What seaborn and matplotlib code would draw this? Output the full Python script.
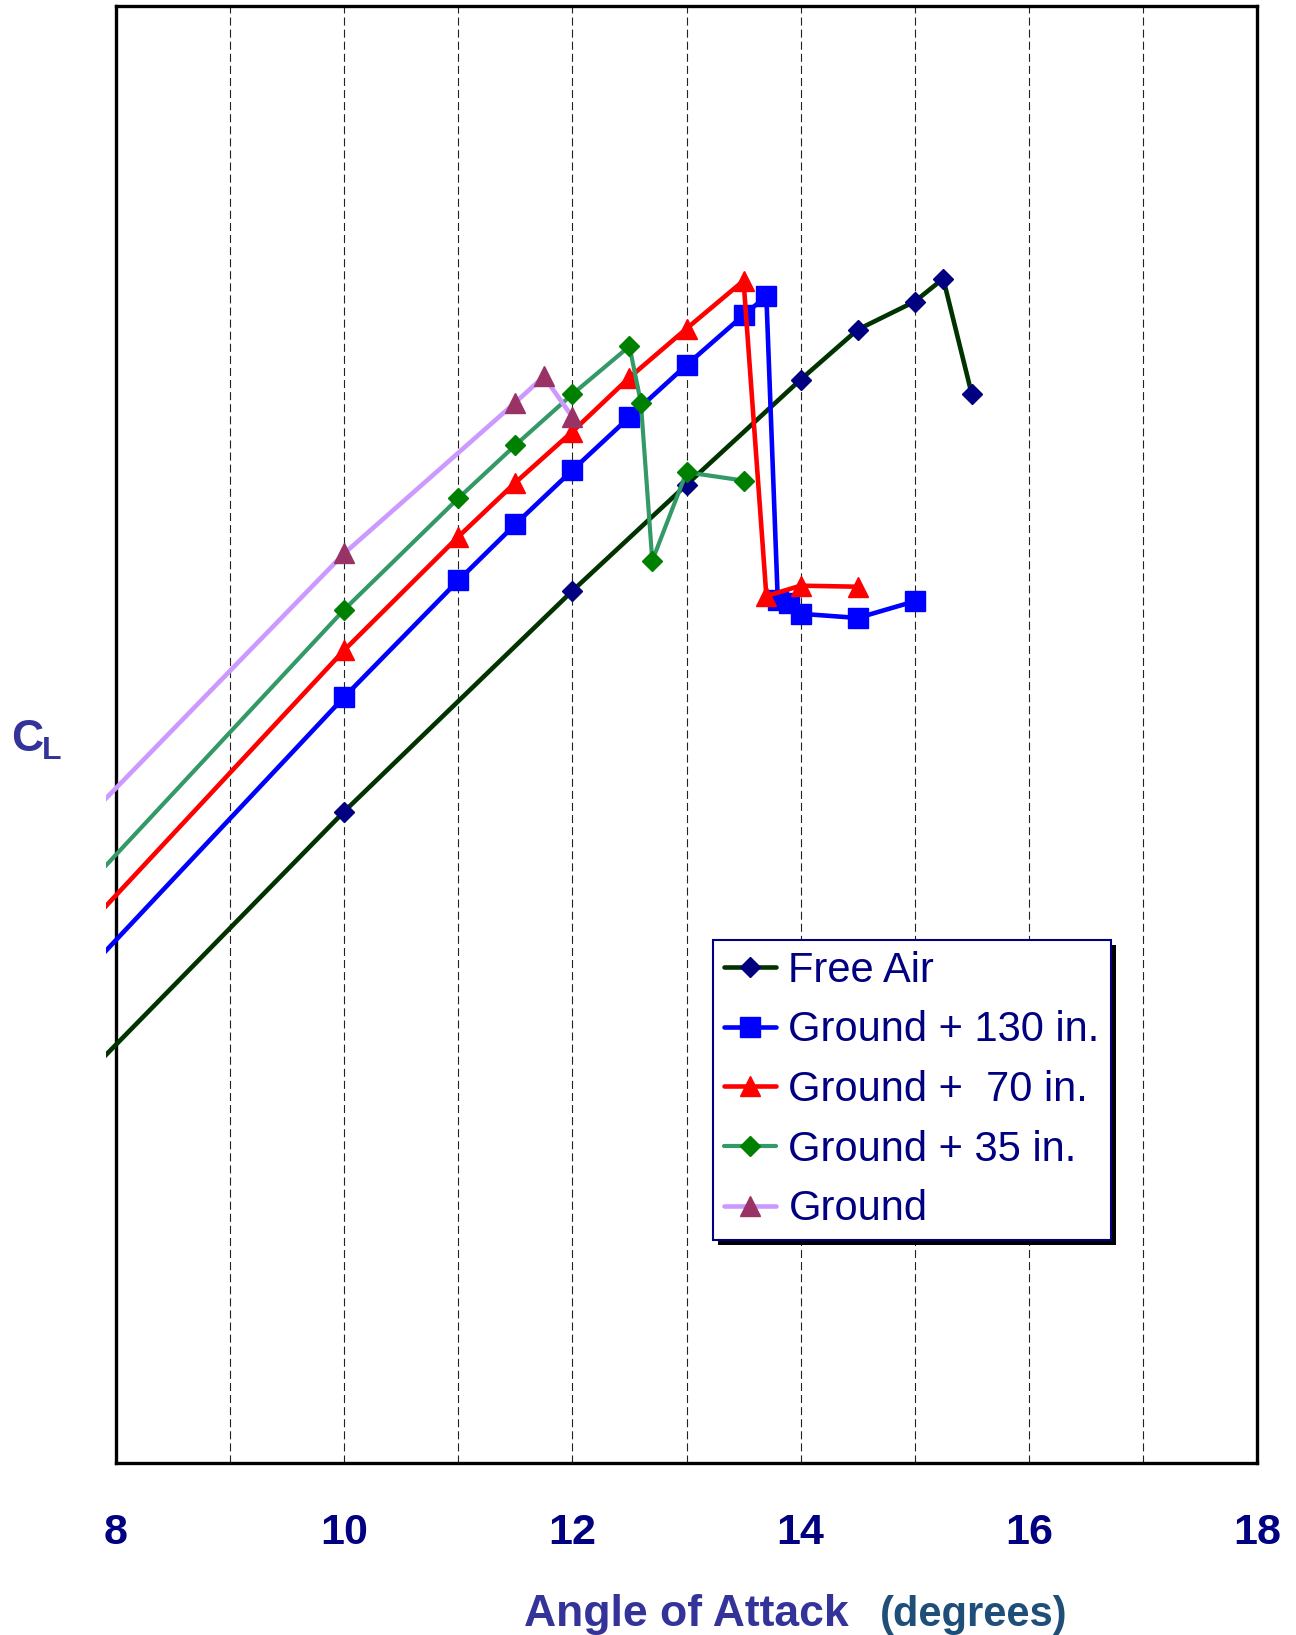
import matplotlib
matplotlib.use("Agg")
import matplotlib.pyplot as plt
import matplotlib.patches as mpatches
import numpy as np
import pandas as pd
import seaborn as sns

# ---- data: angle of attack (deg) and lift coefficient per configuration ----
free_air_alpha = [6, 10, 12, 13, 14, 14.5, 15, 15.25, 15.5]
free_air_cl = [0.578, 1.026, 1.238, 1.340, 1.441, 1.489, 1.516, 1.538, 1.427]

g130_alpha = [6, 10, 11, 11.5, 12, 12.5, 13, 13.5, 13.7, 13.8, 13.9, 14, 14.5, 15]
g130_cl = [0.669, 1.136, 1.248, 1.302, 1.354, 1.405, 1.455, 1.503, 1.521,
           1.229, 1.226, 1.216, 1.212, 1.228]

g70_alpha = [6, 10, 11, 11.5, 12, 12.5, 13, 13.5, 13.7, 14, 14.5]
g70_cl = [0.710, 1.181, 1.290, 1.342, 1.391, 1.443, 1.490, 1.536, 1.233, 1.243, 1.242]

g35_alpha = [6, 10, 11, 11.5, 12, 12.5, 12.6, 12.7, 13, 13.5]
g35_cl = [0.749, 1.220, 1.327, 1.378, 1.427, 1.473, 1.419, 1.267, 1.352, 1.344]

ground_alpha = [6, 10, 11.5, 11.75, 12]
ground_cl = [0.823, 1.274, 1.419, 1.444, 1.405]

series_names = ["Free Air", "Ground + 130 in.", "Ground +  70 in.", "Ground + 35 in.", "Ground"]
line_colors = ["#003300", "#0000FF", "#FF0000", "#339966", "#CC99FF"]
marker_colors = ["#000080", "#0000FF", "#FF0000", "#008000", "#993366"]
marker_shapes = ["D", "s", "^", "D", "^"]
marker_sizes = [10.5, 14, 15, 10.5, 15]
line_widths = [3.3, 3.3, 3.3, 3.0, 3.3]

x_ticks = [8, 10, 12, 14, 16, 18]

series_data = [
    (free_air_alpha, free_air_cl),
    (g130_alpha, g130_cl),
    (g70_alpha, g70_cl),
    (g35_alpha, g35_cl),
    (ground_alpha, ground_cl),
]

# ---- style ----
sns.set_style("white")
plt.rcParams["font.family"] = ["Liberation Sans", "DejaVu Sans"]
plt.rcParams["lines.scale_dashes"] = False

W, H = 1296, 1635
fig = plt.figure(figsize=(W / 100, H / 100), dpi=100)
left, right, top, bottom = 116, 1257, 6, 1463
ax = fig.add_axes([left / W, 1 - bottom / H, (right - left) / W, (bottom - top) / H])

ax.set_xlim(8, 18)
ax.set_ylim(0.4, 1.8)

# dashed vertical grid at each degree
for g in range(9, 18):
    ax.axvline(g, color="#222222", linewidth=0.8, linestyle=(0, (5.8, 2.9)), zorder=1)

# lines may run a little past the left frame, as in the source chart
clip_rect = mpatches.Rectangle((-0.0085, 0), 1.0085, 1, transform=ax.transAxes,
                               facecolor="none", edgecolor="none")
ax.add_patch(clip_rect)

for (a, c), name, lc, mc, mk, ms, lw in zip(series_data, series_names, line_colors,
                                             marker_colors, marker_shapes, marker_sizes,
                                             line_widths):
    df = pd.DataFrame({"alpha": a, "cl": c})
    n_before = len(ax.lines)
    sns.lineplot(data=df, x="alpha", y="cl", ax=ax, sort=False, estimator=None,
                 color=lc, linewidth=lw, marker=mk, markersize=ms,
                 markerfacecolor=mc, markeredgecolor=mc, markeredgewidth=1.0,
                 label=name, zorder=3)
    for ln in ax.lines[n_before:]:
        ln.set_clip_path(clip_rect)

# frame
for sp in ax.spines.values():
    sp.set_visible(True)
    sp.set_color("black")
    sp.set_linewidth(2.4)

ax.set_yticks([])
ax.set_ylabel("")
ax.set_xlabel("")
ax.set_xticks(x_ticks)
ax.set_xticklabels([str(t) for t in x_ticks])
ax.tick_params(axis="x", length=0, pad=36, labelsize=31, labelcolor="#000080")
for lbl in ax.get_xticklabels():
    lbl.set_fontweight("bold")

# axis titles
fig.text(524 / W, 1 - 1626 / H, "Angle of Attack", ha="left", va="baseline",
         fontsize=32, fontweight="bold", color="#333399")
fig.text(880 / W, 1 - 1626 / H, "(degrees)", ha="left", va="baseline",
         fontsize=30, fontweight="bold", color="#1F4E79")
fig.text(11 / W, 1 - 751 / H, "C", ha="left", va="baseline",
         fontsize=32, fontweight="bold", color="#333399")
fig.text(42 / W, 1 - 759 / H, "L", ha="left", va="baseline",
         fontsize=23, fontweight="bold", color="#333399")

# legend
handles, labels = ax.get_legend_handles_labels()
leg = ax.legend(handles, labels, loc="upper left",
                bbox_to_anchor=(713 / W, 1 - 940 / H), bbox_transform=fig.transFigure,
                fontsize=30, labelcolor="#000080", frameon=True, fancybox=False,
                edgecolor="#000080", facecolor="white", framealpha=1,
                handlelength=1.25, handletextpad=0.3, borderpad=0.26,
                labelspacing=0.47, borderaxespad=0, numpoints=1)
leg.get_frame().set_linewidth(1.5)
leg.set_zorder(6)

fig.canvas.draw()
bb = leg.get_frame().get_window_extent()
inv = ax.transAxes.inverted()
(x0, y0) = inv.transform((bb.x0 + 5, bb.y0 - 5))
(x1, y1) = inv.transform((bb.x1 + 5, bb.y1 - 5))
shadow = mpatches.Rectangle((x0, y0), x1 - x0, y1 - y0, transform=ax.transAxes,
                            facecolor="black", edgecolor="none", clip_on=False, zorder=5.9)
ax.add_patch(shadow)

fig.savefig("out.png", dpi=100)
